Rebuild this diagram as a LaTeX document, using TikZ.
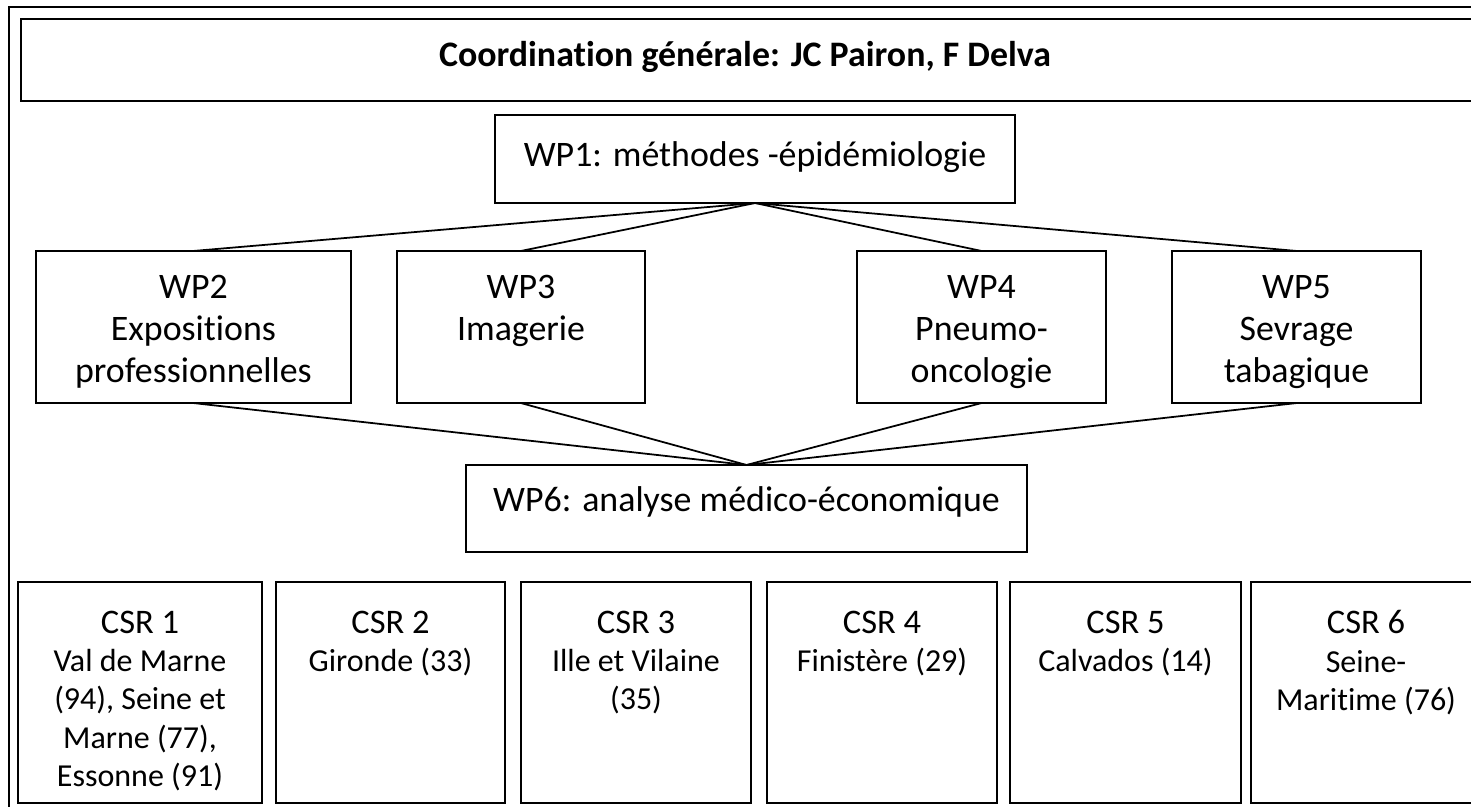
\documentclass[tikz,border=0pt]{standalone}
\usepackage{fontspec}
\setmainfont[RawFeature={-liga;-clig;-dlig;-calt;-rlig}]{Carlito}
\usetikzlibrary{positioning}
\tikzset{%
  box/.style={draw,line width=0.6pt,inner sep=0pt,outer sep=0pt},%
  wptext/.style={inner sep=0pt,align=center,font=\fontsize{10.2}{11.9}\selectfont},%
  csrtext/.style={inner sep=0pt,align=center,font=\fontsize{9.1}{10.9}\selectfont},%
  link/.style={line width=0.5pt}%
}
\newcommand\csrhead[1]{{\fontsize{9.8}{10.9}\selectfont #1}}

\begin{document}
\begin{tikzpicture}[x=0.01cm,y=-0.01cm]
	%% page frame
	\useasboundingbox (0,0) rectangle (1471,806);
	\clip (0,0) rectangle (1471,806);
	\draw[line width=0.6pt] (9,830) -- (9,7) -- (1500,7);
	
	%% coordination
	\node[box,minimum width=14.7cm,minimum height=0.82cm,anchor=north west] (coord) at (21,19) {};
	\node[wptext,font=\fontsize{10.2}{11.4}\selectfont\bfseries] (coord-txt) at (745,57) {Coordination générale: JC Pairon, F Delva};
	
	%% work packages
	\node[box,minimum width=5.19cm,minimum height=0.88cm] (wp1) at (755,159) {};
	\node[wptext] (wp1-txt) at (755,157) {WP1: méthodes -épidémiologie};
	
	\node[box,minimum width=3.15cm,minimum height=1.52cm] (wp2) at (193.5,327) {};
	\node[wptext,below=0.24cm of wp2.north] (wp2-txt) {WP2\\Expositions\\professionnelles};
	\node[box,minimum width=2.48cm,minimum height=1.52cm] (wp3) at (521,327) {};
	\node[wptext,below=0.24cm of wp3.north] (wp3-txt) {WP3\\Imagerie};
	\node[box,minimum width=2.49cm,minimum height=1.52cm] (wp4) at (981.5,327) {};
	\node[wptext,below=0.24cm of wp4.north] (wp4-txt) {WP4\\Pneumo-\\oncologie};
	\node[box,minimum width=2.49cm,minimum height=1.52cm] (wp5) at (1296.5,327) {};
	\node[wptext,below=0.24cm of wp5.north] (wp5-txt) {WP5\\Sevrage\\tabagique};
	
	\node[box,minimum width=5.61cm,minimum height=0.87cm] (wp6) at (746.5,508.5) {};
	\node[wptext] (wp6-txt) at (746.5,502) {WP6: analyse médico-économique};
	
	\foreach \i in {2,...,5}{
		\draw[link] (wp1.south) -- (wp\i.north);
		\draw[link] (wp\i.south) -- (wp6.north);
	}
	
	%% regional centres
	\node[box,minimum width=2.44cm,minimum height=2.21cm] (csr1) at (140,692.5) {};
	\node[csrtext,below=0.28cm of csr1.north] (csr1-txt) {\csrhead{CSR 1}\\Val de Marne\\(94), Seine et\\Marne (77),\\Essonne (91)};
	\node[box,minimum width=2.29cm,minimum height=2.21cm] (csr2) at (390.5,692.5) {};
	\node[csrtext,below=0.28cm of csr2.north] (csr2-txt) {\csrhead{CSR 2}\\Gironde (33)};
	\node[box,minimum width=2.30cm,minimum height=2.21cm] (csr3) at (636,692.5) {};
	\node[csrtext,below=0.28cm of csr3.north] (csr3-txt) {\csrhead{CSR 3}\\Ille et Vilaine\\(35)};
	\node[box,minimum width=2.30cm,minimum height=2.21cm] (csr4) at (882,692.5) {};
	\node[csrtext,below=0.28cm of csr4.north] (csr4-txt) {\csrhead{CSR 4}\\Finistère (29)};
	\node[box,minimum width=2.31cm,minimum height=2.21cm] (csr5) at (1125.5,692.5) {};
	\node[csrtext,below=0.28cm of csr5.north] (csr5-txt) {\csrhead{CSR 5}\\Calvados (14)};
	\node[box,minimum width=2.30cm,minimum height=2.21cm] (csr6) at (1366,692.5) {};
	\node[csrtext,below=0.28cm of csr6.north] (csr6-txt) {\csrhead{CSR 6}\\Seine-\\Maritime (76)};
\end{tikzpicture}
\end{document}
